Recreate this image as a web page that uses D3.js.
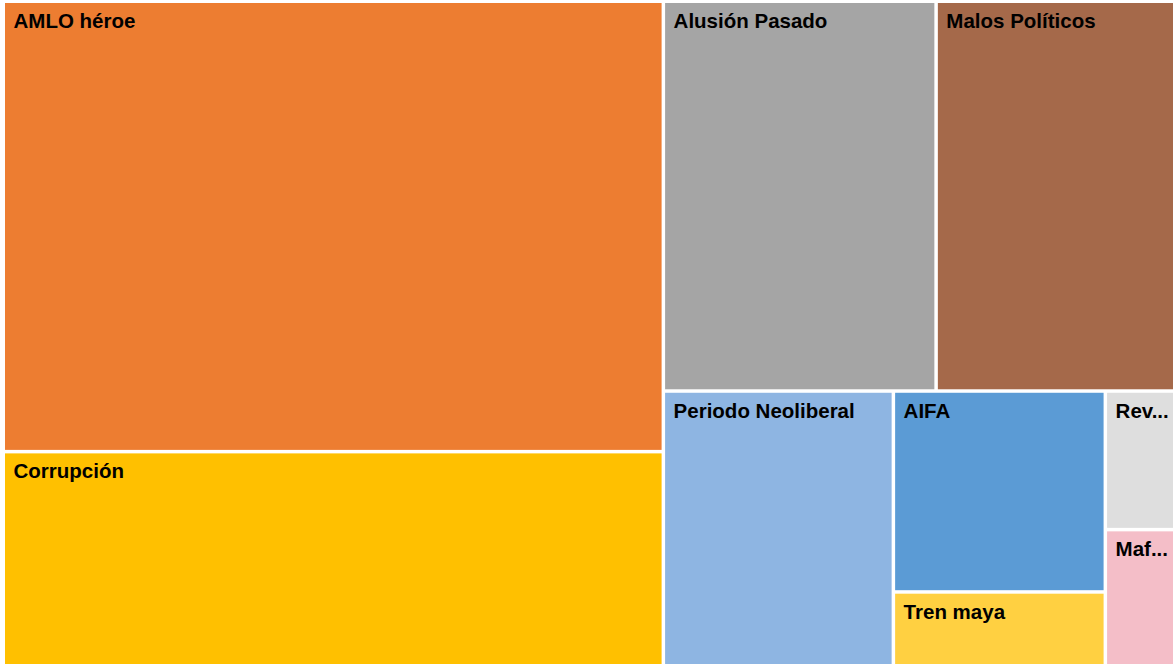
<!DOCTYPE html>
<html>
<head>
<meta charset="utf-8">
<script src="https://cdn.jsdelivr.net/npm/d3@7"></script>
<style>
  body { margin: 0; background: #ffffff; }
  svg { display: block; }
</style>
</head>
<body>
<svg width="1173" height="664"></svg>
<script>
var names = ['AMLO héroe', 'Corrupción', 'Alusión Pasado', 'Malos Políticos',
    'Periodo Neoliberal', 'AIFA', 'Tren maya', 'Revocación de mandato', 'Mafia del poder'];
var values = [292500, 139700, 104600, 91900, 62400, 41900, 15600, 9600, 9500];
var colors = ['#ED7D31', '#FFC000', '#A5A5A5', '#A5694A',
    '#8EB5E2', '#5B9BD5', '#FFD041', '#DEDEDE', '#F4BEC8'];

var svg = d3.select('svg');
var svgWidth = +svg.attr('width');
var svgHeight = +svg.attr('height');

var data = {
    name: 'root',
    children: names.map(function (n, i) {
        return { name: n, value: values[i], color: colors[i] };
    })
};

var root = d3.hierarchy(data)
    .sum(function (d) { return d.value || 0; })
    .sort(function (a, b) { return b.value - a.value; });

d3.treemap()
    .tile(d3.treemapSquarify)
    .size([svgWidth - 4, svgHeight - 2])
    .paddingInner(3.5)
    .round(false)(root);

var cells = svg.append('g')
    .attr('transform', 'translate(5,3)')
    .selectAll('g')
    .data(root.leaves())
    .enter().append('g')
    .attr('transform', function (d) { return 'translate(' + d.x0 + ',' + d.y0 + ')'; });

cells.append('rect')
    .attr('width', function (d) { return d.x1 - d.x0; })
    .attr('height', function (d) { return d.y1 - d.y0; })
    .attr('fill', function (d) { return d.data.color; });

var labels = cells.append('text')
    .attr('x', 8.5)
    .attr('y', 25)
    .attr('font-family', 'Liberation Sans, Arial, sans-serif')
    .attr('font-weight', 'bold')
    .attr('font-size', 20.5)
    .attr('fill', '#000')
    .text(function (d) { return d.data.name; });

// shorten labels that do not fit into their box
labels.each(function (d) {
    var t = d3.select(this);
    var room = (d.x1 - d.x0) - 12;
    var full = d.data.name;
    if (this.getComputedTextLength() <= room) return;
    for (var k = full.length - 1; k > 0; k--) {
        t.text(full.slice(0, k) + '...');
        if (this.getComputedTextLength() <= room) break;
    }
});
</script>
</body>
</html>
